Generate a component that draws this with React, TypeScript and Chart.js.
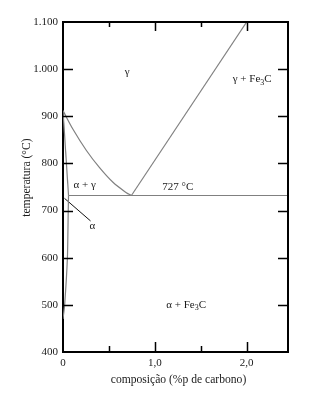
import React, { useEffect, useRef } from "react";
import { Chart, registerables } from "chart.js";

Chart.register(...registerables);

// ---- data ----
const a3Comp = [0, 0.107, 0.253, 0.398, 0.544, 0.69, 0.745];
const a3Temp = [912, 873, 828, 791, 760, 738, 732];

const acmComp = [0.745, 2.0];
const acmTemp = [732, 1100];

const eutectoidComp = [0.06, 2.45];
const eutectoidTemp = [732, 732];

const alphaBoundComp = [0, 0.06];
const alphaBoundTemp = [912, 732];

const solvusComp = [0.06, 0.057, 0.048, 0.018, 0];
const solvusTemp = [732, 700, 600, 500, 470];

const pointerComp = [0.016, 0.3];
const pointerTemp = [726, 678];

const xTickValues = [0, 0.5, 1, 1.5, 2];
const xTickLabels = ["0", "", "1,0", "", "2,0"];

const yTickValues = [400, 500, 600, 700, 800, 900, 1000, 1100];
const yTickLabels = ["400", "500", "600", "700", "800", "900", "1.000", "1.100"];

const regionLabels = [
  { text: "γ", x: 0.7, y: 993 },
  { text: "γ + Fe|3|C", x: 2.06, y: 978 },
  { text: "α + γ", x: 0.235, y: 753 },
  { text: "727 °C", x: 1.25, y: 749 },
  { text: "α + Fe|3|C", x: 1.34, y: 500 },
  { text: "α", x: 0.32, y: 668 },
];

const xTitle = "composição (%p de carbono)";
const yTitle = "temperatura (°C)";

const FONT = "'Liberation Serif', 'DejaVu Serif', serif";
const TEXT = "#1a1a1a";
const CURVE = "#808080";

const pts = (xs: number[], ys: number[]) => xs.map((x, i) => ({ x, y: ys[i] }));

function drawRich(ctx: CanvasRenderingContext2D, text: string, cx: number, cy: number) {
  // "|3|" marks a subscript segment
  const parts = text.split("|");
  const normal = `11px ${FONT}`;
  const small = `8px ${FONT}`;
  let total = 0;
  parts.forEach((p, i) => {
    ctx.font = i % 2 === 1 ? small : normal;
    total += ctx.measureText(p).width;
  });
  let x = cx - total / 2;
  ctx.textAlign = "left";
  ctx.textBaseline = "middle";
  parts.forEach((p, i) => {
    const sub = i % 2 === 1;
    ctx.font = sub ? small : normal;
    ctx.fillText(p, x, sub ? cy + 3 : cy);
    x += ctx.measureText(p).width;
  });
}

const overlay = {
  id: "overlay",
  afterDraw(chart: any) {
    const { ctx, chartArea: a, scales } = chart;
    const xs = scales.x;
    const ys = scales.y;
    ctx.save();
    ctx.strokeStyle = "#000";
    // top and right frame
    ctx.lineWidth = 2;
    ctx.beginPath();
    ctx.moveTo(a.left, a.top);
    ctx.lineTo(a.right, a.top);
    ctx.lineTo(a.right, a.bottom);
    ctx.stroke();
    // inward ticks
    ctx.lineWidth = 1.5;
    ctx.beginPath();
    yTickValues.forEach((v) => {
      if (v === 400 || v === 1100) return;
      const py = Math.round(ys.getPixelForValue(v)) + 0.5;
      ctx.moveTo(a.left, py);
      ctx.lineTo(a.left + 10, py);
      ctx.moveTo(a.right, py);
      ctx.lineTo(a.right - 10, py);
    });
    xTickValues.forEach((v) => {
      if (v === 0) return;
      const px = Math.round(xs.getPixelForValue(v)) + 0.5;
      const major = v % 1 === 0;
      const lb = major ? 10 : 6;
      const lt = major ? 9 : 5;
      ctx.moveTo(px, a.bottom);
      ctx.lineTo(px, a.bottom - lb);
      ctx.moveTo(px, a.top);
      ctx.lineTo(px, a.top + lt);
    });
    ctx.stroke();

    // region labels
    ctx.fillStyle = TEXT;
    regionLabels.forEach((l) => {
      drawRich(ctx, l.text, xs.getPixelForValue(l.x), ys.getPixelForValue(l.y));
    });

    // axis titles
    ctx.font = `11.6px ${FONT}`;
    ctx.textAlign = "center";
    ctx.textBaseline = "middle";
    ctx.fillText(xTitle, (a.left + a.right) / 2 + 3, 380);
    ctx.save();
    ctx.translate(27, ys.getPixelForValue(770));
    ctx.rotate(-Math.PI / 2);
    ctx.fillText(yTitle, 0, 0);
    ctx.restore();
    ctx.restore();
  },
};

export default function App() {
  const ref = useRef<HTMLCanvasElement>(null);
  useEffect(() => {
    document.body.style.margin = "0";
    const line = (data: any, color: string, width: number, tension = 0) => ({
      data,
      borderColor: color,
      borderWidth: width,
      pointRadius: 0,
      fill: false,
      tension,
    });
    const chart = new Chart(ref.current!, {
      type: "line",
      data: {
        datasets: [
          line(pts(a3Comp, a3Temp), CURVE, 1.2, 0.35),
          line(pts(acmComp, acmTemp), CURVE, 1.2),
          line(pts(eutectoidComp, eutectoidTemp), CURVE, 1.2),
          line(pts(alphaBoundComp, alphaBoundTemp), CURVE, 1.2),
          line(pts(solvusComp, solvusTemp), CURVE, 1.2, 0.2),
          line(pts(pointerComp, pointerTemp), "#111", 1),
        ] as any,
      },
      options: {
        responsive: false,
        animation: false,
        devicePixelRatio: 1,
        layout: { padding: { top: 22, right: 43, left: 0, bottom: 0 } },
        plugins: { legend: { display: false }, tooltip: { enabled: false } },
        scales: {
          x: {
            type: "linear",
            min: 0,
            max: 2.45,
            grid: { display: false, drawTicks: false },
            border: { display: true, color: "#000", width: 2 },
            afterBuildTicks: (s: any) => {
              s.ticks = xTickValues.map((v) => ({ value: v }));
            },
            afterFit: (s: any) => {
              s.height = 42;
            },
            ticks: {
              padding: 5,
              color: TEXT,
              font: { family: FONT, size: 11 },
              maxRotation: 0,
              autoSkip: false,
              callback: (_v: any, i: number) => xTickLabels[i],
            },
          },
          y: {
            type: "linear",
            min: 400,
            max: 1100,
            grid: { display: false, drawTicks: false },
            border: { display: true, color: "#000", width: 2 },
            afterBuildTicks: (s: any) => {
              s.ticks = yTickValues.map((v) => ({ value: v }));
            },
            afterFit: (s: any) => {
              s.width = 63;
            },
            ticks: {
              padding: 5,
              color: TEXT,
              font: { family: FONT, size: 11 },
              autoSkip: false,
              callback: (_v: any, i: number) => yTickLabels[i],
            },
          },
        },
      },
      plugins: [overlay],
    });
    return () => chart.destroy();
  }, []);
  return (
    <div style={{ position: "absolute", left: 0, top: 0, width: 331, height: 394, background: "#fff" }}>
      <canvas ref={ref} width={331} height={394} />
    </div>
  );
}
